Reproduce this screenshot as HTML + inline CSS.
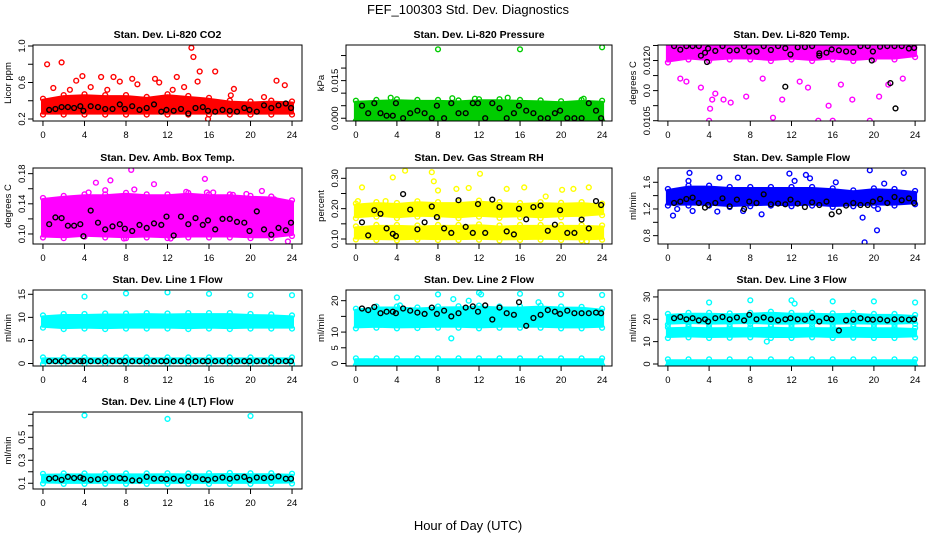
<!DOCTYPE html>
<html><head><meta charset="utf-8"><style>
html,body{margin:0;padding:0;background:#fff;}
svg{display:block;font-family:"Liberation Sans",sans-serif;}
</style></head><body>
<svg id="chart" width="936" height="540" viewBox="0 0 936 540">
<text x="468" y="14" text-anchor="middle" font-size="13">FEF_100303  Std. Dev. Diagnostics</text>
<text x="468" y="530" text-anchor="middle" font-size="13">Hour of Day (UTC)</text>
</svg>
<script>
const xTicks = [0,4,8,12,16,20,24];
const bandHours = [0,2,4,6,8,10,12,14,16,18,20,22,24];
const blackHours = [0.6,1.2,1.8,2.4,3.0,3.6,3.9,4.6,5.3,6.0,6.7,7.4,7.9,8.6,9.3,10.0,10.7,11.4,11.9,12.6,13.3,14.0,14.7,15.4,15.9,16.6,17.3,18.0,18.7,19.4,19.9,20.6,21.3,22.0,22.7,23.4,23.9];

// P1 CO2
const co2Lo = [0.27,0.27,0.27,0.27,0.27,0.27,0.27,0.27,0.27,0.27,0.27,0.27,0.27];
const co2Hi = [0.40,0.44,0.45,0.44,0.44,0.42,0.45,0.43,0.41,0.38,0.37,0.38,0.37];
const co2OutX = [0.4,1.8,3.2,3.8,5.6,6.8,8.6,10.8,11.2,12.9,14.3,14.5,15.1,14.9,16.6,18.4,22.5,23.3,1.0,4.6,2.6,7.4,12.5,15.9,13.6,6.2,9.1,18.1,21.3];
const co2OutY = [0.80,0.82,0.62,0.67,0.66,0.66,0.64,0.64,0.60,0.66,0.98,0.88,0.72,0.61,0.72,0.53,0.62,0.57,0.54,0.55,0.52,0.61,0.52,0.20,0.55,0.52,0.58,0.46,0.44];
const co2Black = [0.30,0.31,0.33,0.33,0.32,0.34,0.29,0.34,0.33,0.31,0.31,0.36,0.31,0.34,0.30,0.32,0.36,0.28,0.30,0.29,0.31,0.26,0.32,0.33,0.29,0.28,0.30,0.29,0.28,0.32,0.30,0.28,0.35,0.32,0.35,0.37,0.32];

// P2 Pressure
const presLo = [-0.0003,-0.0003,-0.0003,-0.0003,-0.0003,-0.0003,-0.0003,-0.0003,-0.0003,-0.0003,-0.0003,-0.0003,-0.0003];
const presHi = [0.0062,0.0065,0.0068,0.0065,0.0065,0.0063,0.0068,0.0068,0.0065,0.0063,0.0060,0.0065,0.0062];
const presOutX = [8,16,24,3.4,9.4,14.8,11.6,22.2,0.2];
const presOutY = [0.0275,0.0275,0.0283,0.0082,0.0080,0.0082,0.0078,0.0078,0.0058];
const presBlack = [0.005,0.002,0.006,0.002,0.001,0.001,0.006,0.000,0.002,0.003,0.002,0.000,0.005,0.000,0.006,0.002,0.002,0.006,0.006,0.000,0.006,0.004,0.000,0.002,0.005,0.003,0.002,0.000,0.000,0.002,0.003,0.000,0.000,0.000,0.006,0.003,0.000];

// P3 Li-820 Temp
const tempLo = [0.01250,0.01260,0.01255,0.01260,0.01260,0.01255,0.01260,0.01255,0.01260,0.01255,0.01260,0.01260,0.01268];
const tempHi = [0.01302,0.01302,0.01302,0.01302,0.01302,0.01302,0.01302,0.01302,0.01302,0.01302,0.01302,0.01302,0.01302];
const tempOutX = [4.0,4.1,4.3,4.6,5.4,6.1,10.2,14.6,16.0,19.6,15.6,20.5,17.9,11.1,7.6,3.2,1.2,1.8,22.8,21.4,12.8,9.2,13.6,16.8];
const tempOutY = [0.01050,0.01090,0.01120,0.01140,0.01120,0.01110,0.01060,0.01050,0.01050,0.01050,0.01100,0.01130,0.01120,0.01120,0.01130,0.01160,0.01190,0.01180,0.01190,0.01170,0.01180,0.01190,0.01160,0.01170];
const tempBlack = [0.01298,0.01286,0.01298,0.01298,0.01298,0.01276,0.01290,0.01282,0.01298,0.01283,0.01284,0.01298,0.01280,0.01280,0.01298,0.01285,0.01298,0.01291,0.01270,0.01294,0.01295,0.01298,0.01274,0.01276,0.01287,0.01284,0.01280,0.01278,0.01298,0.01298,0.01280,0.01296,0.01298,0.01298,0.01298,0.01290,0.01292];
const tempBlackExX = [22.1,21.6,11.4,14.7,3.2,3.8,19.8];
const tempBlackExY = [0.01091,0.01175,0.01163,0.01266,0.01266,0.01245,0.01250];

// P4 Amb Box Temp
const ambLo = [0.098,0.097,0.099,0.098,0.097,0.098,0.097,0.098,0.098,0.098,0.097,0.097,0.100];
const ambHi = [0.145,0.148,0.150,0.150,0.152,0.150,0.150,0.152,0.150,0.150,0.148,0.147,0.142];
const ambOutX = [0.2,4.4,5.1,6.5,6.0,8.5,8.8,10.7,15.6,15.8,16.4,18.3,19.6,22.3,23.6,12.3,3.4,21.1,13.8,7.8];
const ambOutY = [0.100,0.155,0.168,0.171,0.158,0.185,0.159,0.166,0.173,0.155,0.155,0.152,0.153,0.146,0.090,0.094,0.147,0.157,0.156,0.094];
const ambBlack = [0.113,0.122,0.121,0.111,0.111,0.113,0.097,0.131,0.115,0.106,0.110,0.113,0.107,0.104,0.112,0.108,0.114,0.112,0.123,0.098,0.123,0.113,0.121,0.112,0.118,0.106,0.120,0.120,0.116,0.115,0.104,0.130,0.106,0.099,0.108,0.105,0.115];

// P5 Gas Stream RH
const rhLo1 = [0.105,0.103,0.102,0.104,0.103,0.103,0.104,0.102,0.103,0.104,0.103,0.102,0.104];
const rhHi1 = [0.135,0.140,0.140,0.138,0.140,0.140,0.142,0.138,0.140,0.140,0.140,0.140,0.138];
const rhLo2 = [0.175,0.180,0.175,0.180,0.178,0.175,0.180,0.176,0.178,0.175,0.178,0.180,0.185];
const rhHi2 = [0.210,0.215,0.212,0.218,0.215,0.215,0.220,0.215,0.212,0.215,0.213,0.215,0.210];
const rhOutX = [0.6,3.6,4.8,7.4,7.6,9.8,12.1,11.0,16.4,14.7,20.1,21.2,22.7,22.5,0.2,2.9,8.0,18.5];
const rhOutY = [0.270,0.303,0.325,0.320,0.290,0.265,0.315,0.268,0.270,0.265,0.262,0.265,0.270,0.092,0.225,0.225,0.260,0.240];
const rhBlack = [0.155,0.112,0.195,0.183,0.135,0.117,0.110,0.248,0.197,0.132,0.155,0.207,0.172,0.135,0.120,0.228,0.140,0.120,0.215,0.120,0.230,0.205,0.125,0.115,0.200,0.165,0.205,0.210,0.127,0.147,0.195,0.120,0.120,0.164,0.135,0.225,0.212];

// P6 Sample Flow
const sfLo = [1.28,1.28,1.28,1.26,1.27,1.28,1.27,1.28,1.26,1.27,1.28,1.28,1.30];
const sfHi = [1.47,1.52,1.52,1.50,1.50,1.50,1.50,1.50,1.48,1.45,1.48,1.47,1.44];
const sfOutX = [0.5,0.9,2.0,2.1,2.4,5.0,6.8,7.3,9.1,11.8,12.3,13.4,13.8,16.3,18.9,19.1,19.6,20.3,20.4,21.0,22.9,4.8];
const sfOutY = [1.10,1.20,1.62,1.74,1.17,1.67,1.67,1.17,1.12,1.73,1.62,1.71,1.66,1.60,1.07,0.70,1.78,0.88,1.20,1.58,1.74,1.16];
const sfBlack = [1.29,1.31,1.35,1.37,1.29,1.22,1.26,1.29,1.36,1.24,1.34,1.20,1.31,1.29,1.42,1.27,1.28,1.27,1.34,1.28,1.23,1.30,1.26,1.31,1.12,1.16,1.25,1.29,1.26,1.26,1.31,1.35,1.29,1.38,1.33,1.36,1.29];

// P7 Line 1 Flow
const l1Lo1 = [0.3,0.3,0.3,0.3,0.3,0.3,0.3,0.3,0.3,0.3,0.3,0.3,0.3];
const l1Hi1 = [0.9,0.9,0.9,0.9,0.9,0.9,0.9,0.9,0.9,0.9,0.9,0.9,0.9];
const l1Lo2 = [8.2,7.9,8.0,7.9,8.0,8.0,8.0,7.9,8.0,7.9,8.0,8.0,8.0];
const l1Hi2 = [10.0,10.3,10.3,10.4,10.4,10.5,10.4,10.5,10.5,10.5,10.3,10.2,10.0];
const l1OutX = [4,8,12,16,20,24];
const l1OutY = [14.5,15.2,15.4,15.1,14.8,14.8];
const l1Black = [0.5,0.5,0.5,0.5,0.5,0.5,0.5,0.5,0.5,0.5,0.5,0.5,0.5,0.5,0.5,0.5,0.5,0.5,0.5,0.5,0.5,0.5,0.5,0.5,0.5,0.5,0.5,0.5,0.5,0.5,0.5,0.5,0.5,0.5,0.5,0.5,0.5];

// P8 Line 2 Flow
const l2Lo1 = [0,0,0,0,0,0,0,0,0,0,0,0,0];
const l2Hi1 = [1.0,1.0,1.0,1.0,1.0,1.0,1.0,1.0,1.0,1.0,1.0,1.0,1.0];
const l2Lo2 = [11.8,12.0,11.8,11.9,12.0,12.0,11.8,12.0,12.0,12.0,11.8,11.8,12.0];
const l2Hi2 = [16.8,17.5,17.5,17.2,17.5,17.6,17.8,17.5,17.5,17.8,17.5,17.4,16.8];
const l2OutX = [4.0,8.0,12.0,12.2,16.0,20.0,24.0,9.3,9.5,11.0,17.8,4.3];
const l2OutY = [21.0,22.0,22.5,22.0,22.2,22.0,21.8,8.0,20.5,20.0,19.5,18.5];
const l2Black = [17.5,17.0,18.0,16.0,16.5,16.5,16.0,17.5,16.8,16.2,15.8,17.8,15.8,16.8,15.0,16.0,17.8,18.2,16.5,18.5,14.0,17.8,16.0,15.5,19.5,12.0,14.5,15.5,17.0,16.5,15.8,16.8,16.0,16.0,16.0,16.2,16.0];

// P9 Line 3 Flow
const l3Lo1 = [0,0,0,0,0,0,0,0,0,0,0,0,0];
const l3Hi1 = [1.2,1.2,1.2,1.2,1.2,1.2,1.2,1.2,1.2,1.2,1.2,1.2,1.2];
const l3Lo2 = [12.5,12.8,12.5,12.6,12.8,12.5,12.5,12.8,12.5,12.6,12.5,12.5,12.8];
const l3Hi2 = [15.5,15.8,15.5,15.6,15.5,15.8,15.5,15.6,15.5,15.8,15.5,15.5,15.2];
const l3Lo3 = [18.5,18.8,18.5,18.6,18.8,18.5,18.5,18.8,18.5,18.6,18.5,18.5,18.8];
const l3Hi3 = [21.5,22.0,22.0,21.8,22.0,22.5,22.0,22.0,21.8,22.0,21.5,21.5,21.0];
const l3OutX = [4,8,12,16,20,24,12.3,9.6,15.6];
const l3OutY = [27.5,28.5,28.5,28.0,28.0,27.5,27.0,10.0,14.0];
const l3Black = [20.5,21,20,20.5,19.5,20,19,20.5,21,20,20.8,19.5,22,20,20.8,20,19.5,20,20.5,20,19.8,20.8,19,20.5,20,15,19.5,19.8,20.5,20,19.8,20,19.5,20,20,19.8,20];

// P10 Line 4 (LT) Flow
const l4Lo = [0.115,0.112,0.112,0.113,0.112,0.112,0.112,0.112,0.112,0.112,0.112,0.112,0.115];
const l4Hi = [0.165,0.168,0.168,0.168,0.168,0.168,0.170,0.168,0.170,0.172,0.170,0.170,0.166];
const l4OutX = [4,12,20];
const l4OutY = [0.69,0.66,0.685];
const l4Black = [0.14,0.145,0.13,0.155,0.145,0.15,0.14,0.13,0.135,0.14,0.145,0.145,0.14,0.125,0.125,0.155,0.14,0.14,0.135,0.14,0.125,0.155,0.15,0.135,0.13,0.14,0.15,0.14,0.15,0.155,0.13,0.15,0.145,0.15,0.16,0.14,0.14];

const NS = "http://www.w3.org/2000/svg";
const svg = document.getElementById('chart');
const colsPx = [[33,302],[346,612],[658,925]];
const rowsPx = [[45,121],[168,244],[290,366],[412,489]];

const panels = [
 {id:'co2', title:'Stan. Dev. Li-820 CO2', ylab:'Licor ppm', c:0, r:0, dom:[0.178,1.011], ticks:[0.2,0.4,0.6,0.8,1.0], labs:[[0.2,'0.2'],[0.6,'0.6'],[1.0,'1.0']], col:'#ff0000', bands:[[co2Lo,co2Hi]], ox:co2OutX, oy:co2OutY, black:co2Black},
 {id:'pressure', title:'Stan. Dev. Li-820 Pressure', ylab:'kPa', c:1, r:0, dom:[-0.0011,0.0292], ticks:[0,0.005,0.01,0.015,0.02,0.025], labs:[[0,'0.000'],[0.015,'0.015']], col:'#00cc00', bands:[[presLo,presHi]], ox:presOutX, oy:presOutY, black:presBlack},
 {id:'li820-temp', title:'Stan. Dev. Li-820 Temp.', ylab:'degrees C', c:2, r:0, dom:[0.01049,0.013016], ticks:[0.0105,0.011,0.0115,0.012,0.0125,0.013], labs:[[0.0105,'0.0105'],[0.0115,'0.0'],[0.0125,'0.0120']], col:'#ff00ff', bands:[[tempLo,tempHi]], ox:tempOutX, oy:tempOutY, black:tempBlack, bx2:tempBlackExX, by2:tempBlackExY},
 {id:'amb-temp', title:'Stan. Dev. Amb. Box Temp.', ylab:'degrees C', c:0, r:1, dom:[0.0867,0.1875], ticks:[0.10,0.12,0.14,0.16,0.18], labs:[[0.10,'0.10'],[0.14,'0.14'],[0.18,'0.18']], col:'#ff00ff', bands:[[ambLo,ambHi]], ox:ambOutX, oy:ambOutY, black:ambBlack},
 {id:'gas-rh', title:'Stan. Dev. Gas Stream RH', ylab:'percent', c:1, r:1, dom:[0.0835,0.334], ticks:[0.10,0.15,0.20,0.25,0.30], labs:[[0.10,'0.10'],[0.20,'0.20'],[0.30,'0.30']], col:'#ffff00', bands:[[rhLo1,rhHi1],[rhLo2,rhHi2]], ox:rhOutX, oy:rhOutY, black:rhBlack},
 {id:'sample-flow', title:'Stan. Dev. Sample Flow', ylab:'ml/min', c:2, r:1, dom:[0.675,1.814], ticks:[0.8,1.0,1.2,1.4,1.6], labs:[[0.8,'0.8'],[1.2,'1.2'],[1.6,'1.6']], col:'#0000ff', bands:[[sfLo,sfHi]], ox:sfOutX, oy:sfOutY, black:sfBlack},
 {id:'line1', title:'Stan. Dev. Line 1 Flow', ylab:'ml/min', c:0, r:2, dom:[-0.54,15.93], ticks:[0,5,10,15], labs:[[0,'0'],[5,'5'],[10,'10'],[15,'15']], col:'#00ffff', bands:[[l1Lo1,l1Hi1],[l1Lo2,l1Hi2]], ox:l1OutX, oy:l1OutY, black:l1Black},
 {id:'line2', title:'Stan. Dev. Line 2 Flow', ylab:'ml/min', c:1, r:2, dom:[-0.8,23.4], ticks:[0,5,10,15,20], labs:[[0,'0'],[5,'5'],[10,'10'],[20,'20']], col:'#00ffff', bands:[[l2Lo1,l2Hi1],[l2Lo2,l2Hi2]], ox:l2OutX, oy:l2OutY, black:l2Black},
 {id:'line3', title:'Stan. Dev. Line 3 Flow', ylab:'ml/min', c:2, r:2, dom:[-0.9,33.1], ticks:[0,10,20,30], labs:[[0,'0'],[10,'10'],[20,'20'],[30,'30']], col:'#00ffff', bands:[[l3Lo1,l3Hi1],[l3Lo2,l3Hi2],[l3Lo3,l3Hi3]], ox:l3OutX, oy:l3OutY, black:l3Black},
 {id:'line4', title:'Stan. Dev. Line 4 (LT) Flow', ylab:'ml/min', c:0, r:3, dom:[0.05,0.72], ticks:[0.1,0.2,0.3,0.4,0.5,0.6,0.7], labs:[[0.1,'0.1'],[0.3,'0.3'],[0.5,'0.5']], col:'#00ffff', bands:[[l4Lo,l4Hi]], ox:l4OutX, oy:l4OutY, black:l4Black}
];

function mk(tag, attrs, parent){
  const e = document.createElementNS(NS, tag);
  for (const k in attrs) e.setAttribute(k, attrs[k]);
  parent.appendChild(e);
  return e;
}
function circle(g, cx, cy, color, name){
  const c = mk('circle', {cx:cx.toFixed(1), cy:cy.toFixed(1), r:2.4, fill:'none', stroke:color, 'stroke-width':1.4}, g);
  
  
}

panels.forEach(p => {
  const L = colsPx[p.c][0], R = colsPx[p.c][1], T = rowsPx[p.r][0], B = rowsPx[p.r][1];
  const W = R - L;
  const xs = v => L + (v + 0.96) / 25.92 * W;
  const ys = v => B - (v - p.dom[0]) / (p.dom[1] - p.dom[0]) * (B - T);
  const g = mk('g', {}, svg);
  
  
  const clipId = 'clip-' + p.id;
  const cp = mk('clipPath', {id: clipId}, g);
  mk('rect', {x:L, y:T, width:W, height:B-T}, cp);
  const plot = mk('g', {'clip-path':'url(#' + clipId + ')'}, g);
  
  

  p.bands.forEach((bd, bi) => {
    const lo = bd[0], hi = bd[1];
    let pts = [];
    for (let i = 0; i < bandHours.length; i++) pts.push(xs(bandHours[i]).toFixed(1) + ',' + ys(hi[i]).toFixed(1));
    for (let i = bandHours.length - 1; i >= 0; i--) pts.push(xs(bandHours[i]).toFixed(1) + ',' + ys(lo[i]).toFixed(1));
    const poly = mk('polygon', {points: pts.join(' '), fill: p.col, stroke: p.col, 'stroke-width': 4, 'stroke-linejoin':'round'}, plot);
    
    
    for (let i = 0; i < bandHours.length; i++) {
      circle(plot, xs(bandHours[i]), ys(hi[i]) - 2, p.col, p.id + '-cloud-edge-point');
      circle(plot, xs(bandHours[i]), ys(lo[i]) + 2, p.col, p.id + '-cloud-edge-point');
    }
  });
  for (let i = 0; i < p.ox.length; i++) circle(plot, xs(p.ox[i]), ys(p.oy[i]), p.col, p.id + '-point');
  for (let i = 0; i < blackHours.length; i++) circle(plot, xs(blackHours[i]), ys(p.black[i]), '#000', p.id + '-black-point');
  if (p.bx2) for (let i = 0; i < p.bx2.length; i++) circle(plot, xs(p.bx2[i]), ys(p.by2[i]), '#000', p.id + '-black-point');

  const box = mk('rect', {x:L, y:T, width:W, height:B-T, fill:'none', stroke:'#000', 'stroke-width':1}, g);
  
  

  xTicks.forEach(t => {
    const x = xs(t);
    mk('line', {x1:x, x2:x, y1:B, y2:B+5, stroke:'#000', 'stroke-width':1}, g);
    const tx = mk('text', {x:x, y:B+17, 'text-anchor':'middle', 'font-size':9.5}, g);
    tx.textContent = String(t);
    
    
  });
  p.ticks.forEach(t => {
    const y = ys(t);
    mk('line', {x1:L-5, x2:L, y1:y, y2:y, stroke:'#000', 'stroke-width':1}, g);
  });
  p.labs.forEach(lb => {
    const y = ys(lb[0]);
    const tx = mk('text', {x:0, y:0, 'text-anchor':'middle', 'font-size':9.5, transform:'translate(' + (L-8) + ',' + y.toFixed(1) + ') rotate(-90)'}, g);
    tx.textContent = lb[1];
    
    
  });
  const yl = mk('text', {x:0, y:0, 'text-anchor':'middle', 'font-size':9.5, transform:'translate(' + (L-22) + ',' + ((T+B)/2).toFixed(1) + ') rotate(-90)'}, g);
  yl.textContent = p.ylab;
  
  
  const tt = mk('text', {x:(L+R)/2, y:T-7, 'text-anchor':'middle', 'font-size':10.5, 'font-weight':'bold'}, g);
  tt.textContent = p.title;
  
  
});
</script>
</body></html>
